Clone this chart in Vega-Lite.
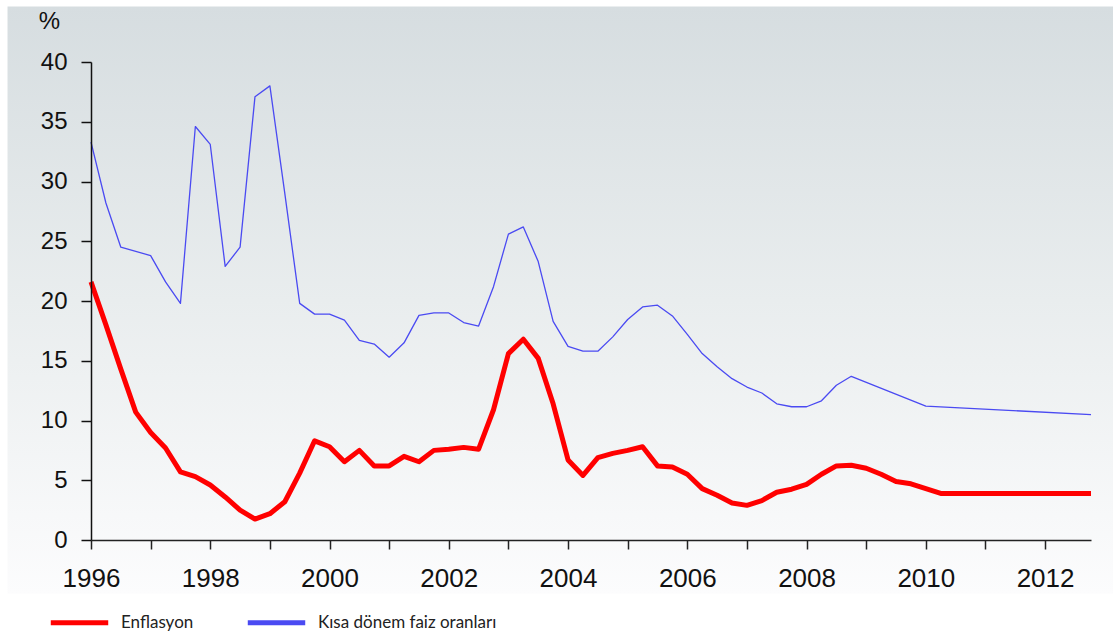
{
  "$schema": "https://vega.github.io/schema/vega-lite/v6.json",
  "autosize": {"type": "none"},
  "width": 1000,
  "height": 478,
  "padding": {"left": 91, "top": 62, "right": 22, "bottom": 95},
  "background": "#ffffff",
  "config": {"view": {"stroke": null}, "font": "Liberation Sans"},
  "datasets": {
    "series": [
      {"t": 1996.0, "s": "Kısa dönem faiz oranları", "v": 33.3},
      {"t": 1996.25, "s": "Kısa dönem faiz oranları", "v": 28.2},
      {"t": 1996.5, "s": "Kısa dönem faiz oranları", "v": 24.5},
      {"t": 1997.0, "s": "Kısa dönem faiz oranları", "v": 23.8},
      {"t": 1997.25, "s": "Kısa dönem faiz oranları", "v": 21.6},
      {"t": 1997.5, "s": "Kısa dönem faiz oranları", "v": 19.8},
      {"t": 1997.75, "s": "Kısa dönem faiz oranları", "v": 34.6},
      {"t": 1998.0, "s": "Kısa dönem faiz oranları", "v": 33.1},
      {"t": 1998.25, "s": "Kısa dönem faiz oranları", "v": 22.9},
      {"t": 1998.5, "s": "Kısa dönem faiz oranları", "v": 24.5},
      {"t": 1998.75, "s": "Kısa dönem faiz oranları", "v": 37.1},
      {"t": 1999.0, "s": "Kısa dönem faiz oranları", "v": 38.0},
      {"t": 1999.25, "s": "Kısa dönem faiz oranları", "v": 29.0},
      {"t": 1999.5, "s": "Kısa dönem faiz oranları", "v": 19.8},
      {"t": 1999.75, "s": "Kısa dönem faiz oranları", "v": 18.9},
      {"t": 2000.0, "s": "Kısa dönem faiz oranları", "v": 18.9},
      {"t": 2000.25, "s": "Kısa dönem faiz oranları", "v": 18.4},
      {"t": 2000.5, "s": "Kısa dönem faiz oranları", "v": 16.7},
      {"t": 2000.75, "s": "Kısa dönem faiz oranları", "v": 16.4},
      {"t": 2001.0, "s": "Kısa dönem faiz oranları", "v": 15.3},
      {"t": 2001.25, "s": "Kısa dönem faiz oranları", "v": 16.5},
      {"t": 2001.5, "s": "Kısa dönem faiz oranları", "v": 18.8},
      {"t": 2001.75, "s": "Kısa dönem faiz oranları", "v": 19.0},
      {"t": 2002.0, "s": "Kısa dönem faiz oranları", "v": 19.0},
      {"t": 2002.25, "s": "Kısa dönem faiz oranları", "v": 18.2},
      {"t": 2002.5, "s": "Kısa dönem faiz oranları", "v": 17.9},
      {"t": 2002.75, "s": "Kısa dönem faiz oranları", "v": 21.2},
      {"t": 2003.0, "s": "Kısa dönem faiz oranları", "v": 25.6},
      {"t": 2003.25, "s": "Kısa dönem faiz oranları", "v": 26.2},
      {"t": 2003.5, "s": "Kısa dönem faiz oranları", "v": 23.3},
      {"t": 2003.75, "s": "Kısa dönem faiz oranları", "v": 18.3},
      {"t": 2004.0, "s": "Kısa dönem faiz oranları", "v": 16.2},
      {"t": 2004.25, "s": "Kısa dönem faiz oranları", "v": 15.8},
      {"t": 2004.5, "s": "Kısa dönem faiz oranları", "v": 15.8},
      {"t": 2004.75, "s": "Kısa dönem faiz oranları", "v": 17.0},
      {"t": 2005.0, "s": "Kısa dönem faiz oranları", "v": 18.45},
      {"t": 2005.25, "s": "Kısa dönem faiz oranları", "v": 19.5},
      {"t": 2005.5, "s": "Kısa dönem faiz oranları", "v": 19.65},
      {"t": 2005.75, "s": "Kısa dönem faiz oranları", "v": 18.75},
      {"t": 2006.0, "s": "Kısa dönem faiz oranları", "v": 17.2},
      {"t": 2006.25, "s": "Kısa dönem faiz oranları", "v": 15.6},
      {"t": 2006.5, "s": "Kısa dönem faiz oranları", "v": 14.5},
      {"t": 2006.75, "s": "Kısa dönem faiz oranları", "v": 13.5},
      {"t": 2007.0, "s": "Kısa dönem faiz oranları", "v": 12.8},
      {"t": 2007.25, "s": "Kısa dönem faiz oranları", "v": 12.3},
      {"t": 2007.5, "s": "Kısa dönem faiz oranları", "v": 11.4},
      {"t": 2007.75, "s": "Kısa dönem faiz oranları", "v": 11.15},
      {"t": 2008.0, "s": "Kısa dönem faiz oranları", "v": 11.15},
      {"t": 2008.25, "s": "Kısa dönem faiz oranları", "v": 11.65},
      {"t": 2008.5, "s": "Kısa dönem faiz oranları", "v": 12.95},
      {"t": 2008.75, "s": "Kısa dönem faiz oranları", "v": 13.7},
      {"t": 2010.0, "s": "Kısa dönem faiz oranları", "v": 11.2},
      {"t": 2012.77, "s": "Kısa dönem faiz oranları", "v": 10.5},
      {"t": 1996.0, "s": "Enflasyon", "v": 21.6},
      {"t": 1996.25, "s": "Enflasyon", "v": 18.0},
      {"t": 1996.5, "s": "Enflasyon", "v": 14.3},
      {"t": 1996.75, "s": "Enflasyon", "v": 10.7},
      {"t": 1997.0, "s": "Enflasyon", "v": 9.0},
      {"t": 1997.25, "s": "Enflasyon", "v": 7.7},
      {"t": 1997.5, "s": "Enflasyon", "v": 5.7},
      {"t": 1997.75, "s": "Enflasyon", "v": 5.3},
      {"t": 1998.0, "s": "Enflasyon", "v": 4.6},
      {"t": 1998.25, "s": "Enflasyon", "v": 3.6},
      {"t": 1998.5, "s": "Enflasyon", "v": 2.5},
      {"t": 1998.75, "s": "Enflasyon", "v": 1.75},
      {"t": 1999.0, "s": "Enflasyon", "v": 2.2},
      {"t": 1999.25, "s": "Enflasyon", "v": 3.2},
      {"t": 1999.5, "s": "Enflasyon", "v": 5.6},
      {"t": 1999.75, "s": "Enflasyon", "v": 8.3},
      {"t": 2000.0, "s": "Enflasyon", "v": 7.8},
      {"t": 2000.25, "s": "Enflasyon", "v": 6.55},
      {"t": 2000.5, "s": "Enflasyon", "v": 7.5},
      {"t": 2000.75, "s": "Enflasyon", "v": 6.2},
      {"t": 2001.0, "s": "Enflasyon", "v": 6.2},
      {"t": 2001.25, "s": "Enflasyon", "v": 7.0},
      {"t": 2001.5, "s": "Enflasyon", "v": 6.55},
      {"t": 2001.75, "s": "Enflasyon", "v": 7.5},
      {"t": 2002.0, "s": "Enflasyon", "v": 7.6},
      {"t": 2002.25, "s": "Enflasyon", "v": 7.75},
      {"t": 2002.5, "s": "Enflasyon", "v": 7.6},
      {"t": 2002.75, "s": "Enflasyon", "v": 10.9},
      {"t": 2003.0, "s": "Enflasyon", "v": 15.6},
      {"t": 2003.25, "s": "Enflasyon", "v": 16.8},
      {"t": 2003.5, "s": "Enflasyon", "v": 15.2},
      {"t": 2003.75, "s": "Enflasyon", "v": 11.4},
      {"t": 2004.0, "s": "Enflasyon", "v": 6.7},
      {"t": 2004.25, "s": "Enflasyon", "v": 5.4},
      {"t": 2004.5, "s": "Enflasyon", "v": 6.9},
      {"t": 2004.75, "s": "Enflasyon", "v": 7.25},
      {"t": 2005.0, "s": "Enflasyon", "v": 7.5},
      {"t": 2005.25, "s": "Enflasyon", "v": 7.8},
      {"t": 2005.5, "s": "Enflasyon", "v": 6.2},
      {"t": 2005.75, "s": "Enflasyon", "v": 6.1},
      {"t": 2006.0, "s": "Enflasyon", "v": 5.5},
      {"t": 2006.25, "s": "Enflasyon", "v": 4.3},
      {"t": 2006.5, "s": "Enflasyon", "v": 3.75},
      {"t": 2006.75, "s": "Enflasyon", "v": 3.1},
      {"t": 2007.0, "s": "Enflasyon", "v": 2.9},
      {"t": 2007.25, "s": "Enflasyon", "v": 3.3},
      {"t": 2007.5, "s": "Enflasyon", "v": 4.0},
      {"t": 2007.75, "s": "Enflasyon", "v": 4.25},
      {"t": 2008.0, "s": "Enflasyon", "v": 4.65},
      {"t": 2008.25, "s": "Enflasyon", "v": 5.5},
      {"t": 2008.5, "s": "Enflasyon", "v": 6.2},
      {"t": 2008.75, "s": "Enflasyon", "v": 6.25},
      {"t": 2009.0, "s": "Enflasyon", "v": 6.0},
      {"t": 2009.25, "s": "Enflasyon", "v": 5.5},
      {"t": 2009.5, "s": "Enflasyon", "v": 4.9},
      {"t": 2009.75, "s": "Enflasyon", "v": 4.7},
      {"t": 2010.0, "s": "Enflasyon", "v": 4.3},
      {"t": 2010.25, "s": "Enflasyon", "v": 3.9},
      {"t": 2012.77, "s": "Enflasyon", "v": 3.9}
    ]
  },
  "layer": [
    {
      "data": {"values": [{"bg": 1}]},
      "mark": {"type": "rect", "clip": false, "color": {"gradient": "linear", "x1": 0, "y1": 0, "x2": 0, "y2": 1, "stops": [{"offset": 0, "color": "#d6dde0"}, {"offset": 0.5, "color": "#e9edee"}, {"offset": 1, "color": "#fcfcfd"}]}},
      "encoding": {
        "x": {"datum": 1994.6, "type": "quantitative", "scale": {"domain": [1996, 2012.77], "nice": false, "zero": false}},
        "x2": {"datum": 2013.2},
        "y": {"datum": 44.65, "type": "quantitative", "scale": {"domain": [0, 40], "nice": false}},
        "y2": {"datum": -4.5}
      }
    },
    {
      "data": {"name": "series"},
      "encoding": {
        "x": {
          "field": "t", "type": "quantitative",
          "scale": {"domain": [1996, 2012.77], "nice": false, "zero": false},
          "axis": {
            "title": null, "zindex": 2,
            "values": [1996, 1997, 1998, 1999, 2000, 2001, 2002, 2003, 2004, 2005, 2006, 2007, 2008, 2009, 2010, 2011, 2012],
            "labelExpr": "datum.value % 2 == 0 ? datum.value : ''",
            "grid": false,
            "domainColor": "#222222", "domainWidth": 1.5,
            "tickColor": "#222222", "tickWidth": 1.5, "tickSize": 9,
            "labelFontSize": 26, "labelColor": "#111111", "labelPadding": 16,
            "labelFont": "Liberation Sans", "labelBaseline": "top", "labelFlush": false, "labelOverlap": false
          }
        },
        "y": {
          "field": "v", "type": "quantitative",
          "scale": {"domain": [0, 40], "nice": false},
          "axis": {
            "zindex": 2,
            "title": "%", "titleAngle": 0, "titleX": -42, "titleY": -41,
            "titleAlign": "center", "titleBaseline": "middle",
            "titleFontSize": 24, "titleFontWeight": "normal", "titleColor": "#111111", "titleFont": "Liberation Sans",
            "values": [0, 5, 10, 15, 20, 25, 30, 35, 40],
            "grid": false,
            "domainColor": "#111111", "domainWidth": 1.5,
            "tickColor": "#111111", "tickWidth": 1.5, "tickSize": 10,
            "labelFontSize": 24, "labelColor": "#111111", "labelPadding": 14, "labelFont": "Liberation Sans"
          }
        },
        "color": {
          "field": "s", "type": "nominal",
          "scale": {"domain": ["Enflasyon", "Kısa dönem faiz oranları"], "range": ["#ff0000", "#4a4af2"]},
          "legend": {
            "title": null, "orient": "none", "direction": "horizontal", "columns": 2,
            "legendX": -43, "legendY": 529, "zindex": 3,
            "symbolType": "stroke", "symbolSize": 3300, "symbolStrokeWidth": 5,
            "labelFontSize": 17, "labelFont": "Lato", "labelColor": "#222222", "labelOffset": 10,
            "labelLimit": 400, "columnPadding": 43
          }
        }
      },
      "layer": [
        {
          "transform": [{"filter": "datum.s == 'Enflasyon'"}],
          "mark": {"type": "line", "strokeJoin": "round", "strokeWidth": 5, "clip": false}
        },
        {
          "transform": [{"filter": "datum.s != 'Enflasyon'"}],
          "mark": {"type": "line", "strokeJoin": "round", "strokeWidth": 1.3, "clip": false}
        }
      ]
    }
  ]
}
